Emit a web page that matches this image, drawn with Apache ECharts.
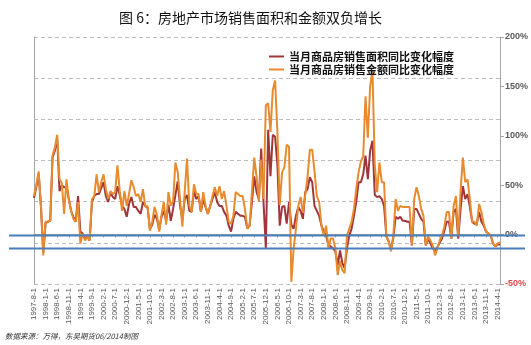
<!DOCTYPE html>
<html>
<head>
<meta charset="utf-8">
<script src="https://cdn.jsdelivr.net/npm/echarts@6/dist/echarts.min.js"></script>
<style>
html,body{margin:0;padding:0;background:#fff;}
#c{width:531px;height:345px;}
</style>
</head>
<body>
<div id="c"></div>
<script>
// ---- data ----
const startYear = 1997, startMonth = 8, monthCount = 202;
const seriesNames = ['当月商品房销售面积同比变化幅度', '当月商品房销售金额同比变化幅度'];
// monthly YoY change of floor area sold (%)
const areaYoY = [
  37,48,62,28,-18,12,13,14,78,85,98,44,50,48,48,36,24,18,13,39,
  3,1,-4,-2,-6,33,39,41,41,47,53,39,33,43,38,36,49,40,29,26,
  18,31,38,28,28,24,21,33,29,27,6,10,20,16,5,18,24,14,30,14,
  26,40,54,29,15,36,40,24,23,44,36,39,23,36,28,21,29,36,43,33,
  29,29,23,19,9,3,16,23,21,19,19,18,6,9,33,59,43,36,87,33,
  -14,106,59,101,99,70,9,28,29,11,33,10,6,19,28,24,16,43,46,58,
  53,29,24,19,9,3,-1,-11,-12,-14,-17,-31,-16,-29,-34,-14,-1,6,19,33,
  53,53,61,80,56,85,95,40,38,39,36,29,-2,-7,-15,-3,18,16,18,14,
  14,13,13,-11,26,26,21,16,13,-11,-4,-9,-14,-16,-13,-8,-4,4,13,13,
  -4,23,26,-4,26,49,36,41,28,13,11,11,23,13,9,3,1,-1,-9,-12,
  -10,-10
];
// monthly YoY change of sales amount (%)
const amountYoY = [
  39,50,64,30,-21,13,13,14,80,88,101,56,52,21,56,36,24,16,13,33,
  -9,1,-6,-2,-6,36,39,61,43,53,61,46,36,44,41,43,70,44,24,44,
  29,41,55,48,39,41,33,46,28,29,4,13,28,20,3,20,33,10,43,29,
  34,73,63,36,8,43,77,29,23,51,41,41,23,43,29,21,29,39,48,39,
  49,36,44,29,13,11,19,43,41,39,39,26,6,9,43,78,59,33,76,36,
  131,133,104,146,156,103,30,63,68,91,89,-48,-14,6,29,38,22,40,59,86,
  86,64,39,33,9,-1,9,-14,-4,-4,-14,-41,-27,-36,-39,-1,6,13,26,46,
  63,74,79,140,98,150,166,70,43,73,53,53,-1,-7,-17,-1,36,24,29,28,
  28,28,28,-11,36,48,39,26,19,-11,-2,-6,-11,-21,-14,-6,-1,8,23,23,
  -4,29,39,-2,44,78,53,56,36,13,13,9,31,23,11,3,1,-1,-9,-12,
  -9,-8
];
const refLines = [0, -14];             // the two blue reference levels (%)
const rightTicks = {min: -50, max: 200, interval: 50};
const titleText = '图 6：房地产市场销售面积和金额双负增长';
const sourceText = '数据来源：万得，东吴期货06/2014制图';

// ---- categories ----
const categories = [];
for (let k = 0; k < monthCount; k++) {
  const t = (startMonth - 1) + k;
  categories.push((startYear + Math.floor(t / 12)) + '-' + (t % 12 + 1) + '-1');
}

const chart = echarts.init(document.getElementById('c'), null, {renderer: 'canvas'});
const axisGray = '#A6A6A6';
chart.setOption({
  animation: false,
  backgroundColor: '#fff',
  title: {
    text: titleText, left: 114, top: 6,
    textStyle: {fontSize: 14, fontWeight: 'normal', color: '#111', fontFamily: '"Noto Sans CJK SC", sans-serif'}
  },
  legend: {
    orient: 'vertical', left: 264, top: 45, itemGap: 0,
    itemWidth: 15, itemHeight: 2, icon: 'rect',
    textStyle: {fontSize: 11, fontWeight: 'bold', color: '#111', lineHeight: 13, padding: [0,0,0,0],
      fontFamily: '"Noto Sans CJK SC", sans-serif'},
    data: seriesNames
  },
  grid: {left: 34, right: 29, top: 37, bottom: 61, containLabel: false},
  xAxis: {
    type: 'category', data: categories, boundaryGap: false,
    axisLine: {lineStyle: {color: axisGray, width: 1}},
    axisTick: {show: true, interval: 4, length: 3, lineStyle: {color: axisGray}},
    axisLabel: {interval: 4, rotate: 90, fontSize: 8, color: '#595959', margin: 4,
      fontFamily: '"Liberation Sans", Arial, sans-serif'},
    splitLine: {show: false}
  },
  yAxis: [
    {
      type: 'value', position: 'right', min: rightTicks.min, max: rightTicks.max, interval: rightTicks.interval,
      axisLine: {show: true, lineStyle: {color: axisGray}},
      axisTick: {show: true, length: 4, lineStyle: {color: axisGray}},
      axisLabel: {margin: 5, fontSize: 9, fontWeight: 'bold',
        fontFamily: '"Liberation Sans", Arial, sans-serif',
        formatter: v => v + '%',
        color: v => (Number(v) < 0 ? '#E0474C' : '#595959')},
      splitLine: {show: false}
    },
    {
      type: 'value', position: 'left', min: 0, max: 6, interval: 1,
      axisLine: {show: true, lineStyle: {color: axisGray}},
      axisTick: {show: false}, axisLabel: {show: false},
      splitLine: {show: true, lineStyle: {color: '#BDBDBD', type: [4, 3], width: 1}}
    }
  ],
  series: [
    {name: seriesNames[0], type: 'line', yAxisIndex: 0, data: areaYoY, showSymbol: false,
      lineStyle: {color: '#A0353A', width: 2}, itemStyle: {color: '#A0353A'}},
    {name: seriesNames[1], type: 'line', yAxisIndex: 0, data: amountYoY, showSymbol: false,
      lineStyle: {color: '#E88B2E', width: 2}, itemStyle: {color: '#E88B2E'}}
  ]
});

const gfx = refLines.map(v => {
  const y = Math.round(chart.convertToPixel({yAxisIndex: 0}, v)) + 0.5;
  return {type: 'line', z: 100, shape: {x1: 9, y1: y, x2: 525, y2: y},
    style: {stroke: '#4A7EBB', lineWidth: 2}};
});
gfx.push({type: 'text', left: 5, top: 332, z: 100,
  style: {text: sourceText, fill: '#333', fontSize: 7.5, fontStyle: 'italic',
    fontFamily: '"Noto Sans CJK SC", sans-serif'}});
chart.setOption({graphic: gfx});
</script>
</body>
</html>
